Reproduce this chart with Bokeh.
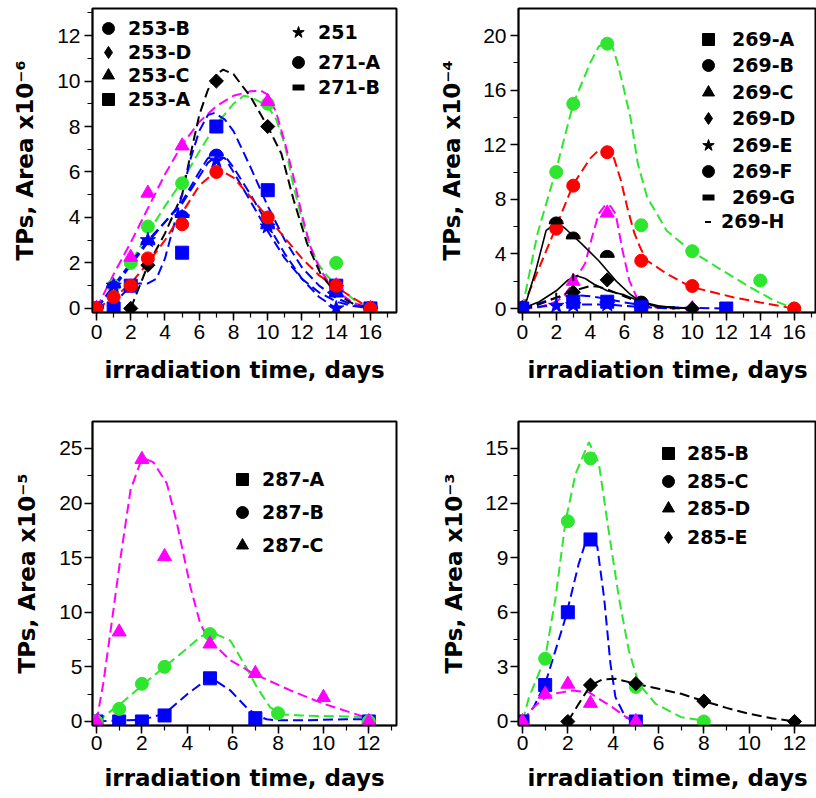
import math
from bokeh.plotting import figure
from bokeh.models import Range1d, SingleIntervalTicker, Legend, LegendItem
from bokeh.layouts import column, row
from bokeh.embed import file_html
from bokeh.resources import INLINE

BLUE = "#0000ff"; RED = "#ff0000"; GREEN = "#2ee62e"; MAG = "#ff00ff"; BLACK = "#000000"
NAN = float("nan")

# ---------------- Panel 1 (x10^-6) ----------------
p1_253B_x = [0, 1, 2, 3, 5, 10, 14, 16]
p1_253B_y = [0, 1.0, 2.0, 3.6, 5.5, 9.0, 2.0, 0]
p1_253D_x = [2, 3, 7, 10, 14, 16]
p1_253D_y = [0, 1.9, 10.0, 8.0, 1.0, 0]
p1_253C_x = [0, 2, 3, 5, 10, 14, 16]
p1_253C_y = [0, 2.25, 5.07, 7.15, 9.1, 1.0, 0]
p1_253A_x = [1, 2, 5, 7, 10, 14, 16]
p1_253A_y = [0, 1.0, 2.45, 8.0, 5.2, 1.0, 0]
p1_251_x = [0, 1, 3, 5, 7, 10, 14]
p1_251_y = [0, 1.0, 3.0, 4.0, 6.5, 3.6, 0]
p1_271A_x = [0, 1, 2, 3, 5, 7, 10, 14, 16]
p1_271A_y = [0, 0.5, 1.0, 2.2, 3.7, 6.0, 4.0, 1.0, 0]
p1_271B_x = [0, 1, 3, 5, 7, 10, 14, 16]
p1_271B_y = [0, 0.9, 2.8, 4.0, 6.7, 3.5, 0.5, 0]

f1_253B_x = [0, 1, 2, 3, 4, 5, 6, 7, 8, 8.6, 9, 10, 10.5, 11, 11.5, 12, 12.5, 13, 13.5, 14, 15, 16]
f1_253B_y = [0, 0.9, 2.0, 3.3, 4.5, 5.6, 6.9, 8.1, 9.0, 9.35, 9.3, 8.9, 8.3, 7.2, 5.4, 3.9, 2.7, 1.9, 1.4, 1.05, 0.4, 0]
f1_253D_x = [2, 3, 4, 5, 5.5, 6, 6.5, 7, 7.4, 8, 9, 10, 10.8, 11.5, 12.3, 13.1, 14, 15, 16]
f1_253D_y = [0, 1.9, 3.3, 5.0, 6.8, 8.5, 9.6, 10.3, 10.5, 10.3, 9.3, 8.0, 6.8, 4.8, 2.85, 1.5, 0.65, 0.2, 0]
f1_253C_x = [0, 1, 2, 3, 4, 5, 6, 7, 8, 9, 9.6, 10, 10.5, 11, 11.5, 12, 12.5, 13, 13.5, 14, 15, 16]
f1_253C_y = [0, 1.5, 2.9, 4.4, 5.9, 7.2, 8.2, 8.9, 9.35, 9.55, 9.58, 9.4, 8.6, 7.3, 5.8, 4.1, 2.7, 1.8, 1.2, 0.75, 0.25, 0]
f1_253A_x = [1, 1.5, 2, 2.5, 3, 3.5, 4, 4.5, 5, 5.5, 6, 6.5, 6.9, 7.5, 8, 9, 10, 11, 12, 13, 14, 15, 16]
f1_253A_y = [0, 0.6, 1.0, 1.1, 1.1, 1.3, 2.2, 3.6, 5.0, 6.6, 7.8, 8.5, 8.6, 8.3, 7.8, 6.2, 4.5, 3.0, 1.8, 1.0, 0.45, 0.15, 0]
f1_251_x = [0, 1, 2, 3, 4, 5, 6, 6.5, 7, 7.5, 8, 9, 10, 11, 12, 13, 14]
f1_251_y = [0, 1.0, 2.0, 3.0, 3.8, 4.7, 6.0, 6.6, 6.85, 6.7, 6.2, 5.0, 3.7, 2.4, 1.3, 0.5, 0]
f1_271B_x = [0, 1, 2, 3, 4, 5, 6, 6.5, 7, 7.5, 8, 9, 10, 11, 12, 13, 14, 15, 16]
f1_271B_y = [0, 0.9, 1.9, 2.9, 3.8, 4.6, 5.8, 6.4, 6.7, 6.6, 6.0, 4.7, 3.4, 2.2, 1.3, 0.7, 0.3, 0.1, 0]
f1_271A_x = [0, 1, 2, 3, 4, 5, 6, 7, 7.3, 8, 9, 10, 11, 12, 13, 14, 15, 16]
f1_271A_y = [0, 0.45, 1.1, 2.0, 3.0, 4.2, 5.4, 6.05, 6.05, 5.75, 4.9, 4.0, 3.1, 2.2, 1.45, 0.95, 0.45, 0]

# ---------------- Panel 2 (x10^-4) ----------------
p2_269A_x = [0, 3, 5, 7, 12]
p2_269A_y = [0, 0.5, 0.5, 0.1, 0]
p2_269B_x = [0, 2, 3, 5, 7, 10, 14, 16]
p2_269B_y = [0, 10.0, 15.0, 19.4, 6.1, 4.2, 2.05, 0]
p2_269C_x = [0, 3, 5, 7, 10]
p2_269C_y = [0, 2.0, 7.0, 0.3, 0]
p2_269D_x = [0, 3, 5, 7, 10]
p2_269D_y = [0, 1.2, 2.1, 0.3, 0]
p2_269E_x = [0, 2, 3, 5]
p2_269E_y = [0, 0.2, 0.25, 0.3]
p2_269F_x = [0, 2, 3, 5, 7, 10, 16]
p2_269F_y = [0, 5.85, 9.0, 11.45, 3.5, 1.65, 0]
p2_269G_x = [0, 2, 3, 5, 7]
p2_269G_y = [0, 6.2, 5.1, 3.75, 0.4]
p2_269H_x = [0, 2, 3, 7]
p2_269H_y = [0, 0.9, 2.3, 0.6]

f2_269B_x = [0, 0.9, 2, 3, 4, 4.5, 5, 5.3, 5.6, 5.9, 6.4, 6.8, 7.35, 8.5, 9.9, 11.5, 13.4, 14.8, 16]
f2_269B_y = [0, 5.5, 10.2, 15.0, 18.0, 19.2, 19.5, 19.2, 18.0, 16.5, 13.8, 10.6, 8.15, 5.7, 4.25, 3.0, 1.56, 0.6, 0]
f2_269F_x = [0, 1, 2, 3, 4, 4.5, 5, 5.4, 5.8, 6.2, 6.6, 7.0, 7.35, 8.5, 9.9, 12.4, 14, 16]
f2_269F_y = [0, 3.0, 6.0, 9.1, 11.0, 11.6, 11.6, 11.0, 9.4, 7.3, 5.5, 4.3, 3.5, 2.55, 1.6, 0.83, 0.45, 0]
f2_269C_x = [0, 1, 2, 2.5, 3, 3.7, 4.1, 4.5, 4.9, 5.2, 5.5, 5.9, 6.3, 6.9, 7.5, 8.5, 10]
f2_269C_y = [0, 0.1, 0.5, 1.0, 1.9, 3.3, 5.2, 6.95, 7.6, 7.5, 6.9, 4.25, 2.05, 0.35, 0.1, 0.02, 0]
f2_269G_x = [0, 0.2, 0.8, 1.4, 2.0, 2.5, 3.5, 4.5, 5.5, 6.3, 7.0, 8, 9, 10]
f2_269G_y = [0, 0.35, 2.8, 5.7, 6.3, 5.9, 4.74, 3.5, 2.05, 1.1, 0.46, 0.15, 0.05, 0]
f2_269H_x = [0, 1, 2, 2.7, 3.2, 3.7, 4.2, 5, 6, 7, 8, 9, 10]
f2_269H_y = [0, 0.5, 1.3, 2.1, 2.4, 2.2, 1.8, 1.3, 1.0, 0.5, 0.2, 0.05, 0]
f2_269D_x = [0, 1, 2, 3, 4, 4.5, 5, 6, 7, 8, 10]
f2_269D_y = [0, 0.3, 0.8, 1.3, 1.65, 1.6, 1.4, 0.9, 0.4, 0.15, 0]
f2_269A_x = [0, 1, 2, 3, 4, 5, 6, 7, 8, 10, 12]
f2_269A_y = [0, 0.4, 0.8, 1.0, 0.9, 0.7, 0.45, 0.25, 0.12, 0.05, 0]
f2_269E_x = [0, 2, 3, 5, 7, 9]
f2_269E_y = [0, 0.25, 0.3, 0.3, 0.1, 0]

# ---------------- Panel 3 (x10^-5) ----------------
p3_287A_x = [0, 1, 2, 3, 5, 7, 12]
p3_287A_y = [0, 0, 0, 0.55, 3.95, 0.3, 0]
p3_287B_x = [0, 1, 2, 3, 5, 8, 12]
p3_287B_y = [0, 1.15, 3.45, 5.0, 8.0, 0.75, 0]
p3_287C_x = [0, 1, 2, 3, 5, 7, 10, 12]
p3_287C_y = [0, 8.2, 24.0, 15.1, 7.1, 4.4, 2.2, 0]

f3_287A_x = [0, 1, 2, 3, 4, 5, 5.9, 6.6, 7.07, 7.5, 8, 9, 10, 11, 12]
f3_287A_y = [0, 0.1, 0.15, 0.7, 2.5, 4.05, 2.84, 1.3, 0.55, 0.2, 0.1, 0.1, 0.15, 0.2, 0.2]
f3_287B_x = [0, 1, 2, 3, 4, 4.6, 5.1, 5.9, 6.5, 7.07, 7.65, 8.2, 9, 10, 11, 12]
f3_287B_y = [0, 1.5, 3.3, 5.0, 6.7, 7.8, 8.15, 7.4, 5.3, 3.14, 1.3, 0.64, 0.55, 0.5, 0.45, 0.4]
f3_287C_x = [0, 0.3, 0.62, 1.06, 1.5, 1.94, 2.2, 2.5, 3.1, 3.55, 4.14, 4.58, 5, 5.9, 6.93, 8.55, 10, 11.9, 12]
f3_287C_y = [0, 3.5, 8.3, 15.0, 21.2, 23.75, 24.0, 23.75, 21.8, 18.1, 12.3, 8.9, 7.4, 5.6, 4.37, 2.84, 1.63, 0.35, 0.25]

# ---------------- Panel 4 (x10^-3) ----------------
p4_285B_x = [0, 1, 2, 3, 5]
p4_285B_y = [0, 2.0, 6.0, 10.0, 0]
p4_285C_x = [0, 1, 2, 3, 5, 8]
p4_285C_y = [0, 3.45, 11.0, 14.45, 1.9, 0]
p4_285D_x = [0, 1, 2, 3, 5]
p4_285D_y = [0, 1.5, 2.05, 1.0, 0]
p4_285E_x = [2, 3, 5, 8, 12]
p4_285E_y = [0, 2.0, 2.08, 1.12, 0]

f4_285B_x = [0, 0.5, 1, 1.9, 2.48, 2.9, 3.3, 3.6, 3.88, 4.1, 4.54, 5]
f4_285B_y = [0, 0.8, 2.07, 5.7, 8.66, 10.3, 9.6, 6.8, 3.17, 1.34, 0.24, 0]
f4_285C_x = [0, 0.28, 1.0, 1.46, 1.9, 2.34, 2.93, 3.37, 3.8, 4.25, 4.69, 5.13, 5.87, 7.0, 8]
f4_285C_y = [0, 1.3, 3.5, 6.8, 11.0, 13.6, 15.35, 14.16, 10.5, 6.83, 3.9, 2.07, 0.97, 0.24, 0.05]
f4_285D_x = [0, 0.5, 1, 1.5, 2.2, 2.93, 3.5, 3.96, 4.5, 5]
f4_285D_y = [0, 0.8, 1.3, 1.55, 1.7, 1.6, 1.15, 0.79, 0.3, 0]
f4_285E_x = [2, 2.48, 3, 3.5, 4.1, 5, 6, 7, 8, 9, 10, 11, 12]
f4_285E_y = [0, 0.97, 1.98, 2.3, 2.35, 2.07, 1.8, 1.52, 1.12, 0.75, 0.42, 0.18, 0]

TICK_FONT = "Liberation Sans"
LABEL_FONT = "DejaVu Sans"


def make_fig(w, h, bl, br, bt, bb, xr, yr, xint, yint, ylabel, xl_standoff, yl_standoff, tl_standoff):
    p = figure(width=w, height=h, output_backend="svg", toolbar_location=None,
               x_range=Range1d(*xr), y_range=Range1d(*yr),
               min_border_left=bl, min_border_right=br, min_border_top=bt, min_border_bottom=bb)
    p.grid.visible = False
    p.background_fill_color = "white"
    p.border_fill_color = "white"
    p.outline_line_color = "black"
    p.outline_line_width = 2
    p.outline_line_alpha = 1
    p.xaxis.ticker = SingleIntervalTicker(interval=xint, num_minor_ticks=2)
    p.yaxis.ticker = SingleIntervalTicker(interval=yint, num_minor_ticks=2)
    for ax in (p.xaxis[0], p.yaxis[0]):
        ax.axis_line_width = 1.5
        ax.axis_line_color = "black"
        ax.major_tick_line_width = 1.5
        ax.minor_tick_line_width = 1.2
        ax.major_tick_line_color = "black"
        ax.minor_tick_line_color = "black"
        ax.major_tick_in = 0
        ax.major_tick_out = 8
        ax.minor_tick_in = 0
        ax.minor_tick_out = 5
        ax.major_label_text_font = TICK_FONT
        ax.major_label_text_font_size = "21px"
        ax.major_label_text_color = "black"
        ax.major_label_standoff = tl_standoff
        ax.axis_label_text_font = LABEL_FONT
        ax.axis_label_text_font_style = "bold"
        ax.axis_label_text_font_size = "23px"
        ax.axis_label_text_color = "black"
    p.xaxis.axis_label = "irradiation time, days"
    p.yaxis.axis_label = ylabel
    p.xaxis.axis_label_standoff = xl_standoff
    p.yaxis.axis_label_standoff = yl_standoff
    return p


def curve(p, xs, ys, color, dash=True, width=2.0):
    p.line(xs, ys, line_color=color, line_width=width,
           line_dash="10 5" if dash else "solid")


SIZES = {"circle": 13, "square": 13, "triangle": 14, "star": 16}


def pts(p, xs, ys, marker, color):
    if marker == "half":
        p.wedge(x=xs, y=ys, radius=7, radius_units="screen", start_angle=0,
                end_angle=math.pi, fill_color=color, line_color=color)
    elif marker == "tick":
        p.scatter(x=xs, y=ys, marker="dash", angle=math.pi / 2, size=7,
                  line_color=color, line_width=2)
    elif marker == "diamond":
        p.scatter(x=xs, y=ys, marker="square", angle=math.pi / 4, size=10,
                  fill_color=color, line_color=color)
    else:
        p.scatter(x=xs, y=ys, marker=marker, size=SIZES[marker],
                  fill_color=color, line_color=color)


def legend_row(p, label, marker, frame_h, cx, cy, text_x, box=30, lab_h=30):
    """One legend entry; (cx, cy) = marker centre, text_x = text start, in px from frame top-left."""
    if marker == "half":
        r = p.scatter(x=[NAN], y=[NAN], marker="dash", line_color="black", line_width=6)
    elif marker == "tick":
        r = p.scatter(x=[NAN], y=[NAN], marker="dash", angle=math.pi / 2,
                      line_color="black", line_width=2)
    else:
        r = p.scatter(x=[NAN], y=[NAN], marker=marker, fill_color="black", line_color="black")
    row_h = max(box, lab_h)
    top = cy - box / 2
    left = cx - box / 2
    leg = Legend(items=[LegendItem(label=label, renderers=[r])],
                 location=(int(round(left)), int(round(frame_h - (top + row_h)))),
                 border_line_color=None, background_fill_alpha=0, padding=0, margin=0,
                 spacing=0, glyph_width=box, glyph_height=box, label_height=lab_h,
                 label_width=10, label_standoff=int(round(text_x - (left + box))),
                 label_text_font=LABEL_FONT, label_text_font_style="bold",
                 label_text_font_size="19px", label_text_color="black")
    p.add_layout(leg)


# ---------- Panel 1 ----------  frame: left 92, top 8, height 304
p1 = make_fig(408, 400, 92, 12, 8, 88, (-0.234, 17.52), (-0.18, 13.19), 2, 2,
              "TPs, Area x10\u207b\u2076", 15, 16, 4)
curve(p1, f1_253B_x, f1_253B_y, GREEN)
curve(p1, f1_253C_x, f1_253C_y, MAG)
curve(p1, f1_253D_x, f1_253D_y, BLACK)
curve(p1, f1_253A_x, f1_253A_y, BLUE)
curve(p1, f1_251_x, f1_251_y, BLUE)
curve(p1, f1_271B_x, f1_271B_y, BLUE)
curve(p1, f1_271A_x, f1_271A_y, RED)
pts(p1, p1_253B_x, p1_253B_y, "circle", GREEN)
pts(p1, p1_271B_x, p1_271B_y, "half", BLUE)
pts(p1, p1_253A_x, p1_253A_y, "square", BLUE)
pts(p1, p1_251_x, p1_251_y, "star", BLUE)
pts(p1, p1_253D_x, p1_253D_y, "diamond", BLACK)
pts(p1, p1_253C_x, p1_253C_y, "triangle", MAG)
pts(p1, p1_271A_x, p1_271A_y, "circle", RED)
for lab, mk, cy in [("253-B", "circle", 20), ("253-D", "diamond", 44),
                    ("253-C", "triangle", 67), ("253-A", "square", 91)]:
    legend_row(p1, lab, mk, 304, 16, cy, 36)
for lab, mk, cy in [("251", "star", 24), ("271-A", "circle", 54), ("271-B", "half", 79)]:
    legend_row(p1, lab, mk, 304, 206, cy, 226)

# ---------- Panel 2 ----------  frame: left 518, top 8, height 304
p2 = make_fig(408, 400, 110, 0, 8, 88, (-0.22, 17.31), (-0.29, 21.98), 2, 4,
              "TPs, Area x10\u207b\u2074", 15, 15, 4)
curve(p2, f2_269B_x, f2_269B_y, GREEN)
curve(p2, f2_269F_x, f2_269F_y, RED)
curve(p2, f2_269C_x, f2_269C_y, MAG)
curve(p2, f2_269A_x, f2_269A_y, BLUE)
curve(p2, f2_269E_x, f2_269E_y, BLUE)
curve(p2, f2_269D_x, f2_269D_y, BLACK)
curve(p2, f2_269G_x, f2_269G_y, BLACK, dash=False, width=1.6)
curve(p2, f2_269H_x, f2_269H_y, BLACK, dash=False, width=1.6)
pts(p2, p2_269B_x, p2_269B_y, "circle", GREEN)
pts(p2, p2_269F_x, p2_269F_y, "circle", RED)
pts(p2, p2_269C_x, p2_269C_y, "triangle", MAG)
pts(p2, p2_269G_x, p2_269G_y, "half", BLACK)
pts(p2, p2_269D_x, p2_269D_y, "diamond", BLACK)
pts(p2, p2_269H_x, p2_269H_y, "tick", BLACK)
pts(p2, p2_269E_x, p2_269E_y, "star", BLUE)
pts(p2, p2_269A_x, p2_269A_y, "square", BLUE)
for lab, mk, cy in [("269-A", "square", 31), ("269-B", "circle", 57), ("269-C", "triangle", 84),
                    ("269-D", "diamond", 110), ("269-E", "star", 137), ("269-F", "circle", 163),
                    ("269-G", "half", 189)]:
    legend_row(p2, lab, mk, 304, 190, cy, 214)
legend_row(p2, "269-H", "tick", 304, 190, 208, 204, box=15, lab_h=26)

# ---------- Panel 3 ----------  frame: left 92, top 421, height 304
p3 = make_fig(408, 398, 92, 12, 21, 73, (-0.176, 13.22), (-0.37, 27.47), 2, 5,
              "TPs, Area x10\u207b\u2075", 12, 16, 2)
curve(p3, f3_287A_x, f3_287A_y, BLUE)
curve(p3, f3_287B_x, f3_287B_y, GREEN)
curve(p3, f3_287C_x, f3_287C_y, MAG)
pts(p3, p3_287A_x, p3_287A_y, "square", BLUE)
pts(p3, p3_287B_x, p3_287B_y, "circle", GREEN)
pts(p3, p3_287C_x, p3_287C_y, "triangle", MAG)
for lab, mk, cy in [("287-A", "square", 58), ("287-B", "circle", 91), ("287-C", "triangle", 124)]:
    legend_row(p3, lab, mk, 304, 150, cy, 170)

# ---------- Panel 4 ----------  frame: left 518, top 421, height 304
p4 = make_fig(408, 398, 110, 0, 21, 73, (-0.176, 12.97), (-0.22, 16.48), 2, 3,
              "TPs, Area x10\u207b\u00b3", 12, 15, 2)
curve(p4, f4_285C_x, f4_285C_y, GREEN)
curve(p4, f4_285B_x, f4_285B_y, BLUE)
curve(p4, f4_285D_x, f4_285D_y, MAG)
curve(p4, f4_285E_x, f4_285E_y, BLACK)
pts(p4, p4_285C_x, p4_285C_y, "circle", GREEN)
pts(p4, p4_285B_x, p4_285B_y, "square", BLUE)
pts(p4, p4_285D_x, p4_285D_y, "triangle", MAG)
pts(p4, p4_285E_x, p4_285E_y, "diamond", BLACK)
for lab, mk, cy in [("285-B", "square", 32), ("285-C", "circle", 60),
                    ("285-D", "triangle", 87), ("285-E", "diamond", 116)]:
    legend_row(p4, lab, mk, 304, 150, cy, 169)

layout = column(row(p1, p2), row(p3, p4))
open("out.html", "w").write(file_html(layout, INLINE))
